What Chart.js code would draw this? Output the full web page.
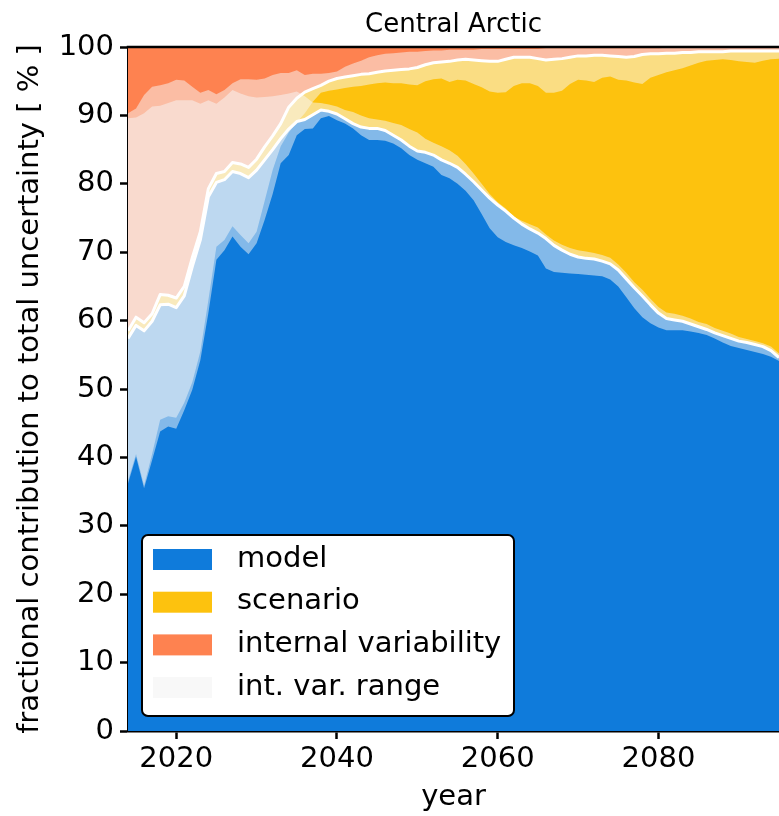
<!DOCTYPE html>
<html>
<head>
<meta charset="utf-8">
<script src="https://cdn.jsdelivr.net/npm/chart.js@4.4.0/dist/chart.umd.min.js"></script>
<style>
  html, body { margin: 0; padding: 0; background: #fff; }
  canvas { display: block; }
</style>
</head>
<body>
<canvas id="chart" width="779" height="816"></canvas>
<script>
// yearly fractions (%), 2014 .. 2095
const startYear = 2014;

// model share: central value and int. var. range
const modelMid = [57.4, 59.3, 58.5, 59.9, 62.3, 62.4, 61.9, 63.6, 67.9, 71.8,
  78.1, 80.2, 80.6, 81.8, 81.5, 80.9, 82.0, 83.5, 85.0, 86.6,
  88.0, 89.1, 89.4, 90.1, 90.8, 90.6, 90.2, 89.5, 88.8, 88.3,
  88.1, 88.1, 87.8, 87.1, 86.4, 85.5, 84.8, 84.6, 84.2, 83.5,
  83.0, 82.4, 81.4, 80.3, 79.1, 77.9, 76.9, 76.0, 75.0, 74.1,
  73.4, 72.8, 72.0, 71.0, 70.3, 69.7, 69.3, 69.1, 69.0, 68.7,
  68.3, 67.4, 66.1, 64.8, 63.6, 62.3, 61.1, 60.3, 60.1, 59.9,
  59.5, 59.1, 58.7, 58.2, 57.8, 57.4, 57.0, 56.8, 56.5, 56.2,
  55.6, 54.6];
const modelLow = [36.2, 40.1, 35.5, 39.6, 43.8, 44.5, 44.2, 46.9, 49.9, 54.2,
  61.1, 68.9, 70.3, 72.3, 70.8, 69.7, 71.3, 74.7, 78.5, 83.0,
  84.2, 87.1, 88.0, 88.1, 89.6, 89.9, 89.3, 88.8, 88.1, 87.1,
  86.4, 86.4, 86.3, 85.9, 85.2, 84.2, 83.5, 83.0, 82.5, 81.3,
  80.8, 80.0, 79.0, 77.6, 75.6, 73.5, 72.2, 71.5, 71.0, 70.6,
  70.1, 69.5, 67.6, 67.1, 67.0, 66.9, 66.8, 66.7, 66.6, 66.5,
  66.0, 65.0, 63.4, 61.8, 60.5, 59.6, 59.0, 58.6, 58.6, 58.6,
  58.4, 58.2, 57.9, 57.4, 56.8, 56.3, 56.0, 55.7, 55.4, 55.1,
  54.7, 54.1];
const modelHigh = [89.6, 89.7, 90.3, 91.3, 91.4, 91.8, 92.2, 92.2, 92.2, 91.7,
  92.2, 91.7, 92.6, 93.7, 93.2, 92.8, 92.6, 92.7, 92.8, 93.0,
  93.2, 93.5, 92.8, 91.9, 91.8, 91.6, 91.3, 90.8, 90.5, 90.0,
  89.6, 89.4, 89.2, 88.9, 88.6, 88.0, 87.5, 86.6, 86.0, 85.5,
  84.9, 84.1, 82.9, 81.5, 80.0, 78.5, 77.3, 76.4, 75.2, 74.6,
  74.1, 73.6, 72.6, 71.7, 71.1, 70.6, 70.3, 70.1, 69.9, 69.6,
  69.2, 68.2, 67.0, 65.6, 64.5, 63.2, 62.0, 61.2, 61.0, 60.7,
  60.3, 59.8, 59.5, 58.9, 58.5, 58.1, 57.6, 57.3, 57.0, 56.7,
  56.2, 55.2];

// model + scenario share: central value and int. var. range
const scenMid = [58.5, 60.5, 59.7, 61.0, 63.8, 63.7, 63.3, 65.0, 69.2, 73.0,
  79.3, 81.5, 81.8, 83.1, 82.9, 82.4, 83.6, 85.4, 87.0, 88.8,
  91.2, 92.5, 93.4, 93.9, 94.4, 95.0, 95.4, 95.6, 95.8, 96.0,
  96.1, 96.3, 96.5, 96.6, 96.7, 96.8, 97.0, 97.4, 97.7, 97.8,
  97.9, 98.1, 98.2, 98.1, 98.0, 97.9, 97.9, 98.2, 98.5, 98.5,
  98.5, 98.3, 98.1, 98.2, 98.3, 98.5, 98.7, 98.7, 98.8, 98.8,
  98.7, 98.6, 98.5, 98.6, 98.9, 99.0, 99.0, 99.1, 99.1, 99.2,
  99.2, 99.3, 99.3, 99.3, 99.3, 99.4, 99.4, 99.4, 99.4, 99.4,
  99.4, 99.4];
const scenLow = [36.6, 40.5, 35.9, 40.5, 45.5, 46.0, 45.8, 48.0, 51.0, 55.5,
  63.0, 70.8, 71.8, 73.8, 72.5, 71.3, 73.0, 77.5, 82.0, 85.5,
  87.5, 89.0, 90.3, 92.0, 93.3, 93.6, 93.8, 94.0, 94.2, 94.3,
  94.5, 94.7, 94.8, 94.7, 94.7, 94.5, 94.4, 95.0, 95.3, 95.4,
  94.9, 95.2, 95.1, 94.6, 94.1, 93.5, 93.3, 93.4, 94.3, 94.7,
  94.7, 94.3, 93.3, 93.3, 93.6, 94.6, 95.2, 95.1, 94.9, 95.5,
  95.7, 95.2, 95.1, 94.8, 94.6, 95.5, 95.9, 96.3, 96.6, 96.9,
  97.3, 97.7, 98.0, 98.1, 98.2, 98.1, 97.9, 97.8, 97.7, 98.0,
  98.2, 98.3];
const scenHigh = [90.3, 91.0, 93.0, 94.2, 94.4, 94.7, 95.2, 95.1, 94.2, 93.3,
  93.7, 93.1, 93.7, 94.7, 95.3, 95.3, 95.2, 95.4, 95.9, 96.2,
  96.2, 96.6, 95.9, 96.1, 96.1, 96.2, 96.4, 97.1, 97.6, 98.0,
  98.5, 98.8, 99.0, 99.1, 99.2, 99.3, 99.3, 99.4, 99.5, 99.5,
  99.6, 99.6, 99.6, 99.6, 99.7, 99.7, 99.7, 99.7, 99.7, 99.7,
  99.7, 99.7, 99.8, 99.8, 99.8, 99.8, 99.8, 99.8, 99.8, 99.8,
  99.8, 99.8, 99.8, 99.8, 99.8, 99.8, 99.8, 99.9, 99.9, 100,
  100, 100, 100, 100, 100, 100, 100, 100, 100, 100,
  100, 100];

const xTicks = [2020, 2040, 2060, 2080];
const legendItems = [
  { label: 'model', color: '#0f7bdb' },
  { label: 'scenario', color: '#fdc20e' },
  { label: 'internal variability', color: '#fe8250' },
  { label: 'int. var. range', color: '#f8f8f8' }
];

const years = modelMid.map((_, i) => startYear + i);
const pts = arr => arr.map((v, i) => ({ x: years[i], y: v }));

const FONT = 'DejaVu Sans';
const SIZE = 29;
Chart.defaults.font.family = FONT;
Chart.defaults.color = '#000';

const rangeFill = 'rgba(248,248,248,0.5)';
const none = 'rgba(0,0,0,0)';

function area(data, fill, color, order) {
  return { data: pts(data), fill, backgroundColor: color, borderColor: none,
    borderWidth: 0, pointRadius: 0, order };
}
function whiteLine(data) {
  return { data: pts(data), fill: false, borderColor: '#fff', borderWidth: 3,
    borderJoinStyle: 'round', pointRadius: 0, order: 0 };
}

// top spine, centred title and the legend box inside the axes
const extras = {
  id: 'extras',
  afterDraw(chart) {
    const { ctx, chartArea: a } = chart;
    ctx.save();
    ctx.strokeStyle = '#000';
    ctx.lineWidth = 2.5;
    ctx.beginPath();
    ctx.moveTo(a.left - 1.25, a.top);
    ctx.lineTo(a.right, a.top);
    ctx.stroke();

    ctx.fillStyle = '#000';
    ctx.font = '26px "' + FONT + '"';
    ctx.textAlign = 'center';
    ctx.textBaseline = 'alphabetic';
    ctx.fillText('Central Arctic', (a.left + a.right) / 2, 32);

    // legend
    const bx = a.left + 14, by = 535, bw = 372, bh = 181, r = 6;
    ctx.beginPath();
    ctx.moveTo(bx + r, by);
    ctx.arcTo(bx + bw, by, bx + bw, by + bh, r);
    ctx.arcTo(bx + bw, by + bh, bx, by + bh, r);
    ctx.arcTo(bx, by + bh, bx, by, r);
    ctx.arcTo(bx, by, bx + bw, by, r);
    ctx.closePath();
    ctx.fillStyle = '#fff';
    ctx.fill();
    ctx.lineWidth = 2;
    ctx.strokeStyle = '#000';
    ctx.stroke();

    ctx.font = SIZE + 'px "' + FONT + '"';
    ctx.textAlign = 'left';
    ctx.textBaseline = 'middle';
    legendItems.forEach((item, i) => {
      const cy = 559 + i * 42.7;
      ctx.fillStyle = item.color;
      ctx.fillRect(bx + 11, cy - 10, 59, 21);
      ctx.fillStyle = '#000';
      ctx.fillText(item.label, bx + 95, cy);
    });
    ctx.restore();
  }
};

new Chart(document.getElementById('chart'), {
  type: 'line',
  data: {
    datasets: [
      whiteLine(modelMid),                      // 0
      whiteLine(scenMid),                       // 1
      area(modelMid, 'origin', '#0f7bdb', 3),   // 2 model
      area(scenMid, 2, '#fdc20e', 3),           // 3 scenario
      area(scenMid, { value: 100 }, '#fe8250', 3), // 4 internal variability
      area(modelLow, false, none, 2),           // 5
      area(modelHigh, 5, rangeFill, 2),         // 6 model range
      area(scenLow, false, none, 2),            // 7
      area(scenHigh, 7, rangeFill, 2)           // 8 scenario range
    ]
  },
  options: {
    responsive: false,
    animation: false,
    layout: { padding: { top: 47, left: 0, right: 0, bottom: 0 } },
    plugins: { legend: { display: false }, tooltip: { enabled: false } },
    elements: { line: { tension: 0 }, point: { radius: 0 } },
    scales: {
      x: {
        type: 'linear',
        min: startYear,
        max: 2095,
        afterBuildTicks: s => { s.ticks = xTicks.map(v => ({ value: v })); },
        afterFit: s => { s.height = 85; },
        ticks: { color: '#000', font: { size: SIZE }, padding: 3, maxRotation: 0,
          autoSkip: false, callback: v => String(v) },
        grid: { drawOnChartArea: false, drawTicks: true, tickLength: 8,
          tickColor: '#000', tickWidth: 2.5 },
        border: { display: true, color: '#000', width: 2.5 },
        title: { display: true, text: 'year', color: '#000', font: { size: SIZE },
          padding: { top: 0, bottom: 1 } }
      },
      y: {
        min: 0,
        max: 100,
        afterFit: s => { s.width = 128; },
        ticks: { stepSize: 10, color: '#000', font: { size: SIZE }, padding: 6 },
        grid: { drawOnChartArea: false, drawTicks: true, tickLength: 8,
          tickColor: '#000', tickWidth: 2.5 },
        border: { display: true, color: '#000', width: 2.5 },
        title: { display: true, text: 'fractional contribution to total uncertainty [ % ]',
          color: '#000', font: { size: SIZE }, padding: { top: 13, bottom: 0 } }
      }
    }
  },
  plugins: [extras]
});
</script>
</body>
</html>
